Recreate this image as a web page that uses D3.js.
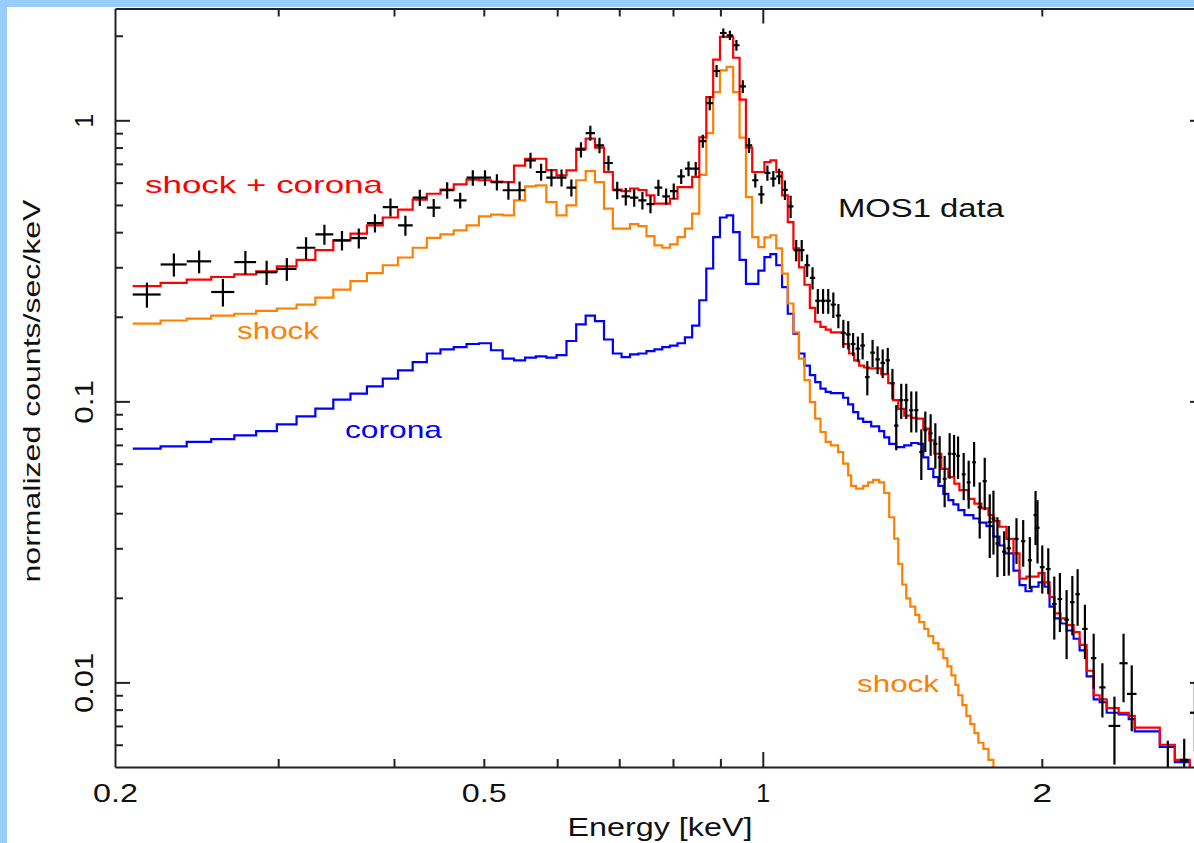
<!DOCTYPE html>
<html><head><meta charset="utf-8">
<script src="https://cdn.jsdelivr.net/npm/d3@7"></script>
<style>
html,body{margin:0;padding:0;background:#fff;overflow:hidden}
svg{display:block}
text{font-family:"Liberation Sans",Arial,Helvetica,sans-serif}
</style></head><body>
<svg id="c" width="1194" height="843"></svg>
<script>
// ---------- data (energies in keV, values in counts/sec/keV) ----------
const binLo = [0.209,0.224,0.239,0.254,0.269,0.284,0.299,0.314,0.329,0.344,
0.359,0.374,0.389,0.404,0.419,0.434,0.449,0.464,0.479,0.494,
0.509,0.524,0.539,0.554,0.569,0.584,0.599,0.614,0.629,0.644,
0.659,0.674,0.689,0.704,0.719,0.734,0.749,0.764,0.779,0.794,
0.809,0.824,0.839,0.854,0.869,0.884,0.899,0.914,0.929,0.944,
0.959,0.974,0.989,1.004,1.019,1.034,1.049,1.064,1.079,1.094,
1.109,1.124,1.139,1.154,1.169];

const redFine = [0.257,0.264,0.271,0.277,0.283,0.290,0.302,0.319,0.345,0.374,
0.395,0.423,0.451,0.481,0.522,0.548,0.567,0.592,0.615,0.612,
0.605,0.603,0.690,0.730,0.730,0.665,0.637,0.664,0.793,0.861,
0.800,0.655,0.567,0.560,0.572,0.565,0.541,0.505,0.505,0.526,
0.579,0.579,0.629,0.870,1.21,1.644,1.98,1.98,1.67,1.185,
0.80,0.655,0.655,0.71,0.72,0.655,0.541,0.434,0.35,0.30,
0.26,0.215,0.192,0.184,0.18];

const orangeFine = [0.189,0.194,0.197,0.202,0.205,0.210,0.214,0.221,0.234,0.250,
0.268,0.286,0.305,0.325,0.352,0.382,0.393,0.406,0.423,0.455,
0.462,0.459,0.519,0.582,0.587,0.512,0.459,0.498,0.612,0.660,
0.603,0.485,0.412,0.412,0.427,0.42,0.387,0.359,0.352,0.362,
0.384,0.412,0.466,0.640,0.90,1.26,1.506,1.55,1.26,0.868,
0.533,0.384,0.354,0.383,0.39,0.35,0.285,0.223,0.176,0.142,
0.119,0.0994,0.0868,0.0778,0.0717];

const blueFine = [0.0679,0.0692,0.0717,0.0734,0.0757,0.0784,0.0828,0.0884,0.0942,0.1014,
0.1065,0.113,0.1205,0.129,0.138,0.148,0.153,0.156,0.160,0.161,
0.152,0.142,0.140,0.143,0.1445,0.143,0.146,0.164,0.188,0.202,
0.193,0.166,0.148,0.1437,0.147,0.148,0.151,0.153,0.156,0.158,
0.161,0.169,0.186,0.229,0.297,0.384,0.451,0.459,0.40,0.319,
0.262,0.262,0.292,0.326,0.334,0.305,0.255,0.205,0.174,0.148,
0.134,0.124,0.117,0.111,0.108];

// coarser steps above 1.184 keV: [lower edge, value]
const redTail = [[1.184,0.176],[1.2209,0.160],[1.2392,0.148],[1.2547,0.140],[1.2704,0.134],
[1.2864,0.132],[1.3025,0.131],[1.3420,0.125],[1.3656,0.116],[1.3827,0.101],[1.4000,0.094],
[1.4211,0.089],[1.4461,0.0873],[1.4642,0.0868],[1.4899,0.080],[1.5123,0.0727],[1.5314,0.0651],
[1.5582,0.0575],[1.5857,0.0538],[1.6095,0.051],[1.6296,0.0483],[1.6666,0.045],[1.6917,0.0433],
[1.7214,0.0416],[1.7517,0.0394],[1.7736,0.0375],[1.8003,0.0358],[1.8320,0.0324],[1.8641,0.0288],
[1.8922,0.0234],[1.9255,0.0238],[1.9838,0.0245],[2.0138,0.0227],[2.0389,0.0201],[2.0645,0.0176],
[2.0955,0.0169],[2.1271,0.016],[2.1645,0.0151],[2.1971,0.0136],[2.2357,0.0110],[2.2750,0.0090],
[2.3092,0.0087],[2.3499,0.0081],[2.4211,0.0078],[2.4822,0.0076],[2.5195,0.0069],[2.6813,0.0060],
[2.7834,0.0053],[2.8893,0.0048]];

const orangeTail = [[1.184,0.0697],[1.2058,0.066],[1.2209,0.060],[1.2362,0.0545],[1.2454,0.050],
[1.2610,0.0489],[1.2832,0.050],[1.2992,0.0515],[1.3155,0.0526],[1.3353,0.0515],[1.3520,0.0472],
[1.3690,0.0387],[1.3862,0.0325],[1.4000,0.0264],[1.4141,0.0223],[1.4282,0.0199],[1.4425,0.0186],
[1.4606,0.0174],[1.4751,0.0164],[1.4936,0.0155],[1.5086,0.0146],[1.5275,0.0138],[1.5467,0.0131],
[1.5661,0.0122],[1.5817,0.0114],[1.5977,0.0106],[1.6135,0.0098],[1.6256,0.0090],[1.6419,0.0083],
[1.6583,0.0076],[1.6748,0.0071],[1.6917,0.0066],[1.7086,0.0061],[1.7300,0.0058],[1.7517,0.0053],
[1.7736,0.0049],[1.80,0.0045]];

const blueTail = [[1.184,0.107],[1.2209,0.103],[1.2362,0.0976],[1.2517,0.0916],[1.2673,0.0868],
[1.2832,0.0845],[1.3090,0.0815],[1.3353,0.0783],[1.3520,0.0745],[1.3690,0.0706],[1.3931,0.0687],
[1.4211,0.0697],[1.4461,0.0711],[1.4715,0.0706],[1.4899,0.0632],[1.5086,0.0575],[1.5275,0.0538],
[1.5467,0.050],[1.5661,0.0469],[1.5857,0.0445],[1.6055,0.043],[1.6256,0.041],[1.6501,0.0394],
[1.6874,0.0383],[1.7129,0.037],[1.7430,0.036],[1.7736,0.033],[1.8003,0.0307],[1.8229,0.0288],
[1.8641,0.025],[1.8922,0.0222],[1.9207,0.0211],[1.9496,0.0219],[1.9838,0.0227],[2.0138,0.0219],
[2.0389,0.0186],[2.0645,0.0169],[2.0955,0.0162],[2.1271,0.0153],[2.1645,0.0143],[2.1971,0.0130],
[2.2357,0.0105],[2.2750,0.0087],[2.3092,0.0085],[2.3499,0.0078],[2.4211,0.0077],[2.4822,0.0074],
[2.5195,0.0067],[2.6813,0.0059],[2.7834,0.0052],[2.8893,0.0047]];

const modelEnd = 3.0;

// MOS1 data: [energy, half width, value, error]
const mos1 = [
[0.2165,0.0075,0.240,0.0245],[0.2315,0.0075,0.307,0.029],[0.2465,0.0075,0.315,0.0295],
[0.2615,0.0075,0.245,0.0275],[0.2765,0.0075,0.313,0.030],[0.2915,0.0075,0.288,0.0285],
[0.3065,0.0075,0.296,0.0275],[0.3215,0.0075,0.352,0.0315],[0.3365,0.0075,0.393,0.032],
[0.3515,0.0075,0.374,0.0295],[0.3665,0.0075,0.381,0.031],[0.3815,0.0075,0.431,0.032],
[0.3965,0.0075,0.491,0.0365],[0.4115,0.0075,0.423,0.0345],[0.4265,0.0075,0.531,0.035],
[0.4415,0.0075,0.489,0.036],[0.4565,0.0075,0.564,0.0385],[0.4715,0.0075,0.519,0.033],
[0.4865,0.0075,0.625,0.040],[0.5015,0.0075,0.625,0.040],[0.5165,0.0075,0.603,0.040],
[0.5315,0.0075,0.564,0.042],[0.5465,0.0075,0.564,0.042],[0.5615,0.0075,0.720,0.046],
[0.5765,0.0075,0.655,0.045],[0.5915,0.0075,0.625,0.043],[0.6065,0.0075,0.625,0.043],
[0.6215,0.0075,0.576,0.040],[0.6365,0.0075,0.787,0.049],[0.6515,0.0075,0.901,0.055],
[0.6665,0.0075,0.815,0.052],[0.6815,0.0075,0.705,0.043],[0.6965,0.0075,0.564,0.040],
[0.7115,0.0075,0.536,0.038],[0.7265,0.0075,0.531,0.038],[0.7415,0.0075,0.519,0.037],
[0.7565,0.0075,0.503,0.036],[0.7715,0.0075,0.576,0.038],[0.7865,0.0075,0.536,0.036],
[0.8015,0.0075,0.560,0.036],[0.8165,0.0075,0.632,0.038],[0.8315,0.0075,0.673,0.040],
[0.8465,0.0075,0.673,0.038],[0.8615,0.0075,0.844,0.045],[0.8765,0.0075,1.152,0.065],
[0.8915,0.0075,1.498,0.075],[0.9065,0.0075,2.045,0.075],[0.9215,0.0075,2.007,0.075],
[0.9365,0.0075,1.85,0.08],[0.9515,0.0075,1.32,0.07],[0.9665,0.0075,0.815,0.05],
[0.9815,0.0075,0.612,0.035],[0.9965,0.0075,0.545,0.04],[1.0115,0.0075,0.65,0.04],
[1.0265,0.0075,0.62,0.04],[1.0415,0.0075,0.632,0.04],[1.0565,0.0075,0.566,0.045],
[1.0715,0.0075,0.494,0.045],[1.0865,0.0075,0.345,0.03],[1.1015,0.0075,0.345,0.03],
[1.1165,0.0075,0.305,0.028],[1.1315,0.0075,0.275,0.025],[1.1465,0.0075,0.228,0.023],
[1.1615,0.0075,0.228,0.023],[1.1765,0.0075,0.228,0.023],[1.1915,0.0075,0.221,0.023],
[1.2065,0.0075,0.202,0.02],[1.2215,0.0075,0.175,0.02],[1.2365,0.0075,0.173,0.02],
[1.2515,0.0075,0.160,0.015],[1.2665,0.0075,0.154,0.016],[1.2815,0.0075,0.158,0.017],
[1.2965,0.0075,0.122,0.017],[1.3135,0.0075,0.149,0.0165],[1.3300,0.0075,0.141,0.016],
[1.3470,0.0075,0.137,0.016],[1.3640,0.0075,0.140,0.015],[1.3800,0.0075,0.116,0.0145],
[1.3931,0.0075,0.082,0.015],[1.4105,0.0075,0.101,0.0145],[1.4282,0.0075,0.101,0.0145],
[1.4461,0.0075,0.093,0.0155],[1.4642,0.0075,0.093,0.0155],[1.4826,0.0075,0.066,0.0135],
[1.4974,0.0075,0.079,0.013],[1.5173,0.0075,0.077,0.013],[1.5352,0.0075,0.0706,0.013],
[1.5517,0.0075,0.0632,0.012],[1.5711,0.0075,0.053,0.011],[1.5908,0.0075,0.0651,0.012],
[1.6083,0.0075,0.065,0.011],[1.6243,0.0075,0.064,0.011],[1.6472,0.008,0.055,0.0105],
[1.6678,0.008,0.0515,0.010],[1.6904,0.008,0.0607,0.011],[1.7141,0.009,0.042,0.0095],
[1.7356,0.009,0.052,0.011],[1.7574,0.009,0.0372,0.0095],[1.7736,0.009,0.0383,0.0098],
[1.7913,0.009,0.0312,0.0075],[1.8216,0.01,0.0292,0.0053],[1.8425,0.01,0.030,0.006],
[1.8781,0.01,0.0324,0.006],[1.9097,0.01,0.0318,0.006],[1.9414,0.01,0.0272,0.0057],
[1.9691,0.01,0.0394,0.0086],[1.9789,0.01,0.0355,0.009],[2.0023,0.012,0.0257,0.005],
[2.0324,0.012,0.0253,0.0047],[2.0630,0.012,0.019,0.0048],[2.0919,0.012,0.0198,0.0047],
[2.1271,0.012,0.0167,0.0046],[2.1577,0.012,0.0193,0.0046],[2.1862,0.012,0.0206,0.0047],
[2.2262,0.015,0.0155,0.0034],[2.2750,0.015,0.0122,0.0027],[2.3250,0.018,0.0096,0.0021],
[2.3956,0.035,0.0070,0.0019],[2.4504,0.025,0.0117,0.0032],[2.5008,0.03,0.0091,0.0024],
[2.7353,0.03,0.0046,0.0016],[2.8490,0.03,0.0053,0.001],[2.9255,0.035,0.0078,0.0021]];

const xMinorTicks = [0.3,0.4,0.5,0.6,0.7,0.8,0.9,2,3];
const xMajorTicks = [1];
const xTickLabels = [0.2,0.5,1,2];
const yMajorTicks = [0.01,0.1,1];
const yMinorTicks = [0.006,0.007,0.008,0.009,0.02,0.03,0.04,0.05,0.06,0.07,0.08,0.09,
                     0.2,0.3,0.4,0.5,0.6,0.7,0.8,0.9,2];
const yTickLabels = [0.01,0.1,1];

const annotations = [
  {text:"shock + corona", x:145, y:193, w:238, size:24, color:"#ff0000"},
  {text:"shock", x:237, y:339, w:82, size:24, color:"#ff8000"},
  {text:"corona", x:345, y:438, w:97, size:24, color:"#0000ff"},
  {text:"MOS1 data", x:838, y:217, w:166, size:26, color:"#111"},
  {text:"shock", x:857, y:692, w:82, size:24, color:"#ff8000"}
];

// ---------- drawing ----------
const W = 1194, H = 843;
const L = 115, R = 1205, T = 8.5, B = 767;
const svg = d3.select('#c');
svg.append('rect').attr('width', W).attr('height', H).attr('fill', '#99ccff');
svg.append('rect').attr('x', 7).attr('y', 7).attr('width', W - 7).attr('height', H - 7).attr('fill', '#fff');

const x = d3.scaleLog().domain([0.2, 3]).range([L, R]);
const y = d3.scaleLog().domain([0.005, 2.5]).range([B, T]);

svg.append('clipPath').attr('id', 'plotclip').append('rect')
  .attr('x', L).attr('y', T).attr('width', R - L).attr('height', B - T);

const plot = svg.append('g').attr('clip-path', 'url(#plotclip)');

function steps(fine, tail) {
  const pts = binLo.map((e, i) => [e, fine[i]]).concat(tail);
  pts.push([modelEnd, pts[pts.length - 1][1]]);
  return pts;
}
const line = d3.line().x(d => x(d[0])).y(d => y(d[1])).curve(d3.curveStepAfter);

[[blueFine, blueTail, '#0000ff'], [orangeFine, orangeTail, '#ff8000'], [redFine, redTail, '#ff0000']]
  .forEach(([f, t, c]) => {
    plot.append('path').datum(steps(f, t)).attr('d', line)
      .attr('fill', 'none').attr('stroke', c).attr('stroke-width', 2.2);
  });

const crosses = plot.append('g').attr('stroke', '#000').attr('stroke-width', 2.2);
mos1.forEach(d => {
  const [e, de, v, dv] = d;
  crosses.append('line').attr('x1', x(e - de)).attr('x2', x(e + de)).attr('y1', y(v)).attr('y2', y(v));
  const lo = Math.max(v - dv, 0.001);
  crosses.append('line').attr('x1', x(e)).attr('x2', x(e)).attr('y1', y(lo)).attr('y2', y(v + dv));
});

// ---------- axes ----------
const axisColor = '#222';
function styleAxis(g) {
  g.selectAll('path.domain').attr('stroke', axisColor).attr('stroke-width', 2);
  g.selectAll('.tick line').attr('stroke', axisColor).attr('stroke-width', 2);
}
function tickAxis(gen, scale, vals, size, tf) {
  const g = svg.append('g').attr('transform', tf);
  g.call(gen(scale).tickValues(vals).tickSize(size).tickSizeOuter(0).tickFormat(''));
  styleAxis(g);
  return g;
}
// bottom & top
[['b', `translate(0,${B})`], ['t', `translate(0,${T})`]].forEach(([s, tf]) => {
  const gen = s === 'b' ? d3.axisBottom : d3.axisTop;
  tickAxis(gen, x, xMinorTicks, -8, tf);
  tickAxis(gen, x, xMajorTicks, -15, tf).select('path.domain').remove();
});
// left & right
[['l', `translate(${L},0)`], ['r', `translate(${R},0)`]].forEach(([s, tf]) => {
  const gen = s === 'l' ? d3.axisLeft : d3.axisRight;
  tickAxis(gen, y, yMinorTicks, -8, tf);
  tickAxis(gen, y, yMajorTicks, -15, tf).select('path.domain').remove();
});

const labelWidths = {"0.2":45, "0.5":45, "2":20, "0.1":44, "0.01":60};

const xl = svg.append('g').attr('transform', `translate(0,${B})`)
  .call(d3.axisBottom(x).tickValues(xTickLabels).tickSize(0).tickPadding(17).tickFormat(d => String(d)));
xl.select('path.domain').remove();
xl.selectAll('text').attr('font-size', 25).attr('fill', '#111')
  .attr('font-family', '"Liberation Sans",Arial,sans-serif')
  .each(function () { const t = this.textContent; if (labelWidths[t]) d3.select(this).attr('textLength', labelWidths[t]).attr('lengthAdjust', 'spacingAndGlyphs'); });

const yl = svg.append('g').attr('transform', `translate(${L},0)`)
  .call(d3.axisLeft(y).tickValues(yTickLabels).tickSize(0).tickFormat(d => String(d)));
yl.select('path.domain').remove();
yl.selectAll('text').attr('font-size', 25).attr('fill', '#111')
  .attr('font-family', '"Liberation Sans",Arial,sans-serif')
  .attr('transform', 'rotate(-90)').attr('x', 0).attr('y', -22).attr('dy', 0)
  .attr('text-anchor', 'middle')
  .each(function () { const t = this.textContent; if (labelWidths[t]) d3.select(this).attr('textLength', labelWidths[t]).attr('lengthAdjust', 'spacingAndGlyphs'); });

// axis titles
svg.append('text').text('Energy [keV]').attr('x', 660).attr('y', 836)
  .attr('text-anchor', 'middle').attr('font-size', 25).attr('fill', '#111')
  .attr('textLength', 185).attr('lengthAdjust', 'spacingAndGlyphs');
svg.append('text').text('normalized counts/sec/keV')
  .attr('transform', 'translate(40,391) rotate(-90)')
  .attr('text-anchor', 'middle').attr('font-size', 24).attr('fill', '#111')
  .attr('textLength', 383).attr('lengthAdjust', 'spacingAndGlyphs');

// annotations
annotations.forEach(a => {
  svg.append('text').text(a.text).attr('x', a.x).attr('y', a.y)
    .attr('font-size', a.size).attr('fill', a.color)
    .attr('textLength', a.w).attr('lengthAdjust', 'spacingAndGlyphs');
});
</script>
</body></html>
